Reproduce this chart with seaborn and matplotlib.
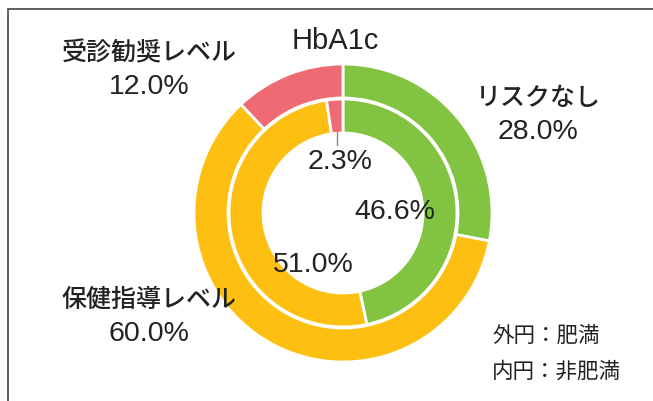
import matplotlib
matplotlib.use("Agg")
import matplotlib.pyplot as plt
import seaborn as sns
from matplotlib.patches import Rectangle

sns.set_theme(style="white")
plt.rcParams['font.family'] = ['Liberation Sans', 'Noto Sans CJK JP', 'DejaVu Sans']

categories = ["リスクなし", "保健指導レベル", "受診勧奨レベル"]
outer_values = [28.0, 60.0, 12.0]   # 外円：肥満
inner_values = [46.6, 51.0, 2.3]    # 内円：非肥満
colors = ["#82c341", "#fdc012", "#ef6b73"]
title = "HbA1c"
note_lines = ["外円：肥満", "内円：非肥満"]

W, H = 653, 401
fig = plt.figure(figsize=(W / 100, H / 100), dpi=100)
ax = fig.add_axes([0, 0, 1, 1])
ax.set_xlim(0, W)
ax.set_ylim(0, H)
ax.set_aspect('equal')
ax.axis('off')

cx, cy = 343, H - 213
ax.pie(outer_values, colors=colors, startangle=90, counterclock=False,
       radius=149, center=(cx, cy), normalize=True,
       wedgeprops=dict(width=34, edgecolor='white', linewidth=2))
ax.pie(inner_values, colors=colors, startangle=90, counterclock=False,
       radius=114, center=(cx, cy), normalize=True,
       wedgeprops=dict(width=34, edgecolor='white', linewidth=2))
ax.set_xlim(0, W)
ax.set_ylim(0, H)

tc = "#222222"
jfs = 18
nfs = 20.5
ax.text(335, H - 41, title, ha='center', va='center', fontsize=21, color=tc)

# outer labels: (category index, label center x, name y, value y)
outer_pos = [(0, 538, 98, 132), (1, 149, 300, 334), (2, 149, 53, 87)]
for i, x, yn, yv in outer_pos:
    ax.text(x, H - yn, categories[i], ha='center', va='center', fontsize=jfs,
            color=tc, family=['Noto Sans CJK JP'], fontweight='medium')
    ax.text(x, H - yv, f"{outer_values[i]:.1f}%", ha='center', va='center',
            fontsize=nfs, color=tc)

inner_pos = [(0, 395, 212), (1, 313, 265), (2, 340, 162)]
for i, x, y in inner_pos:
    ax.text(x, H - y, f"{inner_values[i]:.1f}%", ha='center', va='center',
            fontsize=nfs, color=tc)
ax.plot([337, 337], [H - 131, H - 145], color="#888888", lw=1)

ax.text(492, H - 336, note_lines[0], ha='left', va='center', fontsize=15.5, color=tc,
        family=['Noto Sans CJK JP'])
ax.text(492, H - 372, note_lines[1], ha='left', va='center', fontsize=15.5, color=tc,
        family=['Noto Sans CJK JP'])

fig.patches.append(Rectangle((8 / W, -0.1), 1.2, 1.1 - 9 / H, transform=fig.transFigure,
                             fill=False, edgecolor="#444444", linewidth=1.2))

fig.savefig("out.png", dpi=100, facecolor='white')
